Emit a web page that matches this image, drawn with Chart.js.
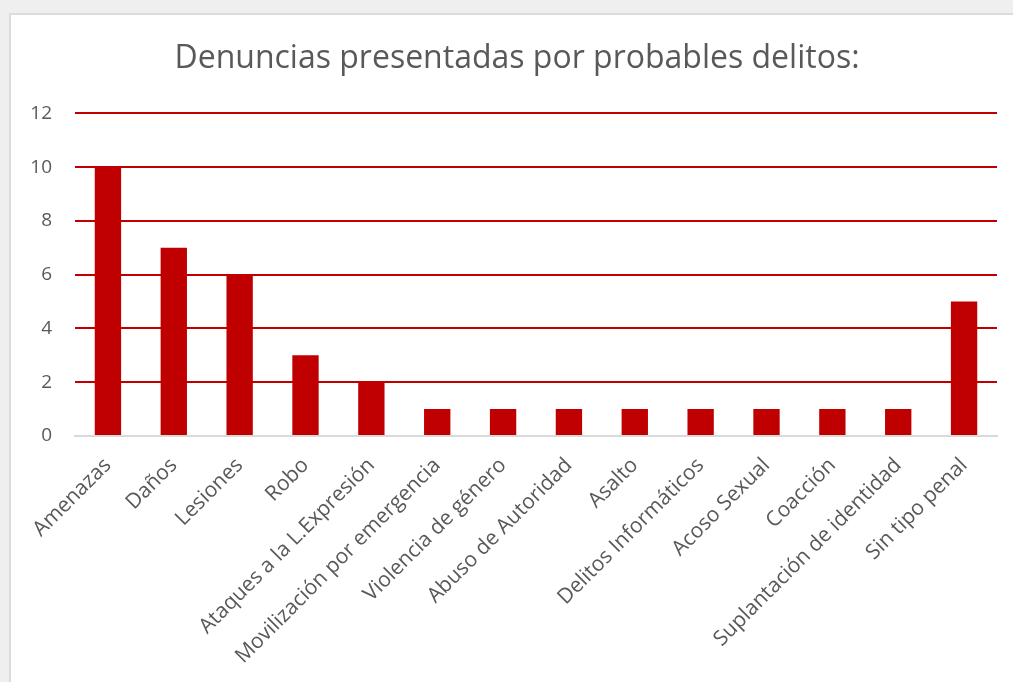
<!DOCTYPE html>
<html>
<head>
<meta charset="utf-8">
<script src="https://cdn.jsdelivr.net/npm/chart.js@4"></script>
<style>
  html, body { margin: 0; padding: 0; background: #efefef; overflow: hidden; }
  #box { position: absolute; left: 9px; top: 13px; width: 1030px; height: 720px; background: #fff; border: 2px solid #dcdcdc; }
  canvas { display: block; }
</style>
</head>
<body>
<div id="box"><canvas id="c" width="1030" height="720"></canvas></div>
<script>
const categories = ["Amenazas", "Daños", "Lesiones", "Robo", "Ataques a la L.Expresión", "Movilización por emergencia", "Violencia de género", "Abuso de Autoridad", "Asalto", "Delitos Informáticos", "Acoso Sexual", "Coacción", "Suplantación de identidad", "Sin tipo penal"];
const denuncias = [10, 7, 6, 3, 2, 1, 1, 1, 1, 1, 1, 1, 1, 5];
const yTicks = [0, 2, 4, 6, 8, 10, 12];
const chartTitle = "Denuncias presentadas por probables delitos:";

const FONT = "'Open Sans', 'Noto Sans', sans-serif";
const PLOT_LEFT = 64, PLOT_BOTTOM = 421;
new Chart(document.getElementById('c'), {
  type: 'bar',
  data: {
    labels: categories,
    datasets: [{ data: denuncias, backgroundColor: '#c00000', borderWidth: 0, categoryPercentage: 1, barPercentage: 0.4 }]
  },
  options: {
    responsive: false,
    animation: false,
    layout: { padding: { left: 0, right: 18, top: 0, bottom: 0 } },
    plugins: {
      legend: { display: false },
      tooltip: { enabled: false },
      title: { display: true, text: chartTitle, color: '#595959', font: { family: FONT, size: 32, weight: 'normal' }, padding: { top: 25, bottom: 35 } }
    },
    scales: {
      x: {
        offset: true,
        grid: { display: false, drawTicks: false },
        border: { display: true, color: '#d9d9d9', width: 2 },
        ticks: { color: '#595959', font: { family: FONT, size: 21 }, minRotation: 45, maxRotation: 45, padding: 17, autoSkip: false },
        afterFit: s => { s.height = 720 - PLOT_BOTTOM; }
      },
      y: {
        min: 0, max: 12,
        afterBuildTicks: s => { s.ticks = yTicks.map(v => ({ value: v })); },
        grid: { drawTicks: false, lineWidth: 2, color: ctx => ctx.tick && ctx.tick.value === 0 ? '#d9d9d9' : '#c00000' },
        border: { display: false },
        ticks: { color: '#595959', font: { family: FONT, size: 19 }, padding: 23 },
        afterFit: s => { s.width = PLOT_LEFT; }
      },
      yRight: {
        position: 'right',
        min: 0, max: 12,
        grid: { display: false, drawTicks: false },
        border: { display: false },
        ticks: { display: false },
        afterFit: s => { s.width = 26; }
      }
    }
  }
});
</script>
</body>
</html>
